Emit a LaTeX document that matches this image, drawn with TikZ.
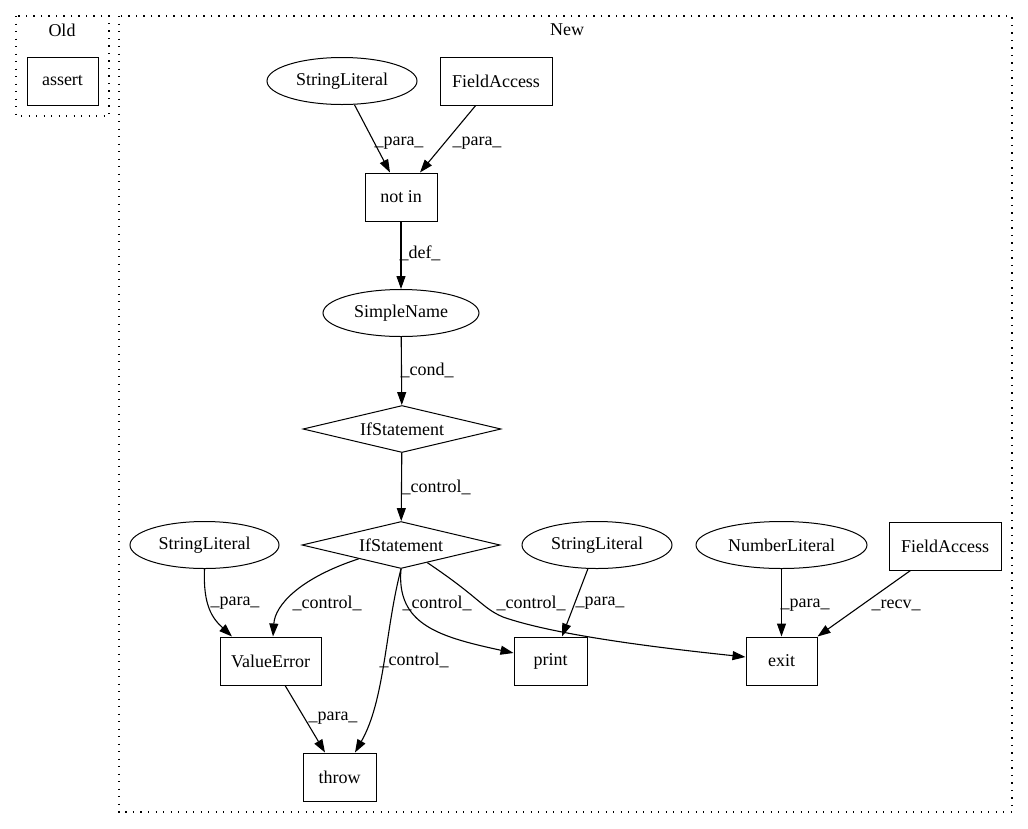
\documentclass[tikz,border=0pt]{standalone}
\usepackage{fontspec}
\setmainfont{Liberation Serif}
\usetikzlibrary{shapes.geometric,arrows.meta}
\begin{document}
\begin{tikzpicture}[x=1pt,y=-1pt,
  every node/.style={font=\fontsize{18pt}{20pt}\selectfont, inner sep=0pt},
  boxnode/.style={draw, line width=1pt, rectangle, minimum height=48pt},
  ellnode/.style={draw, line width=1pt, ellipse, minimum height=47pt},
  dianode/.style={draw, line width=1pt, diamond, aspect=4, minimum width=198pt, minimum height=47pt},
  edge/.style={draw, line width=1.1pt, -{Triangle[length=13pt,width=9pt]}},
  lbl/.style={font=\fontsize{18pt}{20pt}\selectfont},
  cluster/.style={draw, line width=1.2pt, dash pattern=on 1.3pt off 6.2pt}
]
\useasboundingbox (0,0) rectangle (1028,828);
% clusters
\draw[cluster] (16,16) rectangle (109,116);
\node[lbl] (oldlbl) at (62,30) {Old};
\draw[cluster] (119,16) rectangle (1012,812);
\node[lbl] (newlbl) at (567,30) {New};
% nodes
\node[boxnode, minimum width=71pt] (assert) at (62.5,81) {assert};
\node[ellnode, minimum width=150pt] (sl1) at (342,81) {StringLiteral};
\node[boxnode, minimum width=112pt] (fa1) at (496,81) {FieldAccess};
\node[boxnode, minimum width=72pt] (notin) at (401,197) {not in};
\node[ellnode, minimum width=156pt] (sn) at (401,313) {SimpleName};
\node[dianode] (if1) at (402,429) {IfStatement};
\node[dianode] (if2) at (401,545) {IfStatement};
\node[ellnode, minimum width=149pt] (sl2) at (204.5,545) {StringLiteral};
\node[ellnode, minimum width=150pt] (sl3) at (597,545) {StringLiteral};
\node[ellnode, minimum width=171pt] (nl) at (781.5,545) {NumberLiteral};
\node[boxnode, minimum width=112pt] (fa2) at (945,546) {FieldAccess};
\node[boxnode, minimum width=101pt] (ve) at (270.5,661) {ValueError};
\node[boxnode, minimum width=73pt] (pr) at (550.5,661) {print};
\node[boxnode, minimum width=71pt] (ex) at (781.5,661) {exit};
\node[boxnode, minimum width=73pt] (th) at (339.5,777) {throw};
% edges
\draw[edge] (sl1) -- (notin.north -| 390,0);
\draw[edge] (fa1) -- (notin.north -| 420,0);
\draw[edge] (notin) -- (sn);
\draw[edge] (sn) -- (if1);
\draw[edge] (if1) -- (if2);
\draw[edge] (sl2.south) .. controls (203,605) and (212,618) .. (ve.north -| 232,0);
\draw[edge] (if2) .. controls (300,578) and (275,605) .. (ve.north -| 273,0);
\draw[edge] (if2.south) .. controls (385,630) and (385,700) .. (th.north -| 355,0);
\draw[edge] (if2.south) .. controls (396,625) and (440,637) .. (pr.west |- 0,653);
\draw[edge] (if2) .. controls (480,598) and (482,608) .. (503,617) .. controls (560,637) and (680,650) .. (ex.west |- 0,657);
\draw[edge] (sl3) -- (pr.north -| 562,0);
\draw[edge] (nl) -- (ex);
\draw[edge] (fa2) -- (ex.north east);
\draw[edge] (ve) -- (th.north -| 325,0);
% labels
\node[lbl] (l1) at (399,143) {\_para\_};
\node[lbl] (l2) at (477,143) {\_para\_};
\node[lbl] (l3) at (420,253) {\_def\_};
\node[lbl] (l4) at (427,370) {\_cond\_};
\node[lbl] (l5) at (436,487) {\_control\_};
\node[lbl] (l6) at (235,603) {\_para\_};
\node[lbl] (l7) at (327,603) {\_control\_};
\node[lbl] (l8) at (437,603) {\_control\_};
\node[lbl] (l9) at (531,603) {\_control\_};
\node[lbl] (l10) at (600,603) {\_para\_};
\node[lbl] (l11) at (805,605) {\_para\_};
\node[lbl] (l12) at (896,605) {\_recv\_};
\node[lbl] (l13) at (414,660) {\_control\_};
\node[lbl] (l14) at (333,718) {\_para\_};
\end{tikzpicture}
\end{document}
